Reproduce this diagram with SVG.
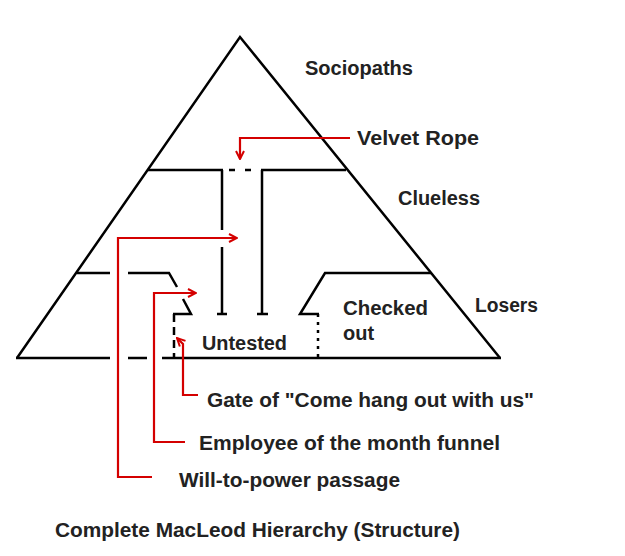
<svg xmlns="http://www.w3.org/2000/svg" width="625" height="556" viewBox="0 0 625 556">
<style>
.k{stroke:#000;stroke-width:2.5;fill:none;stroke-linecap:butt}
.r{stroke:#d40000;stroke-width:2.2;fill:none}
.t{font-family:"Liberation Sans",Arial,sans-serif;font-weight:bold;font-size:20px;fill:#222}
</style>
<defs>
<marker id="ah" viewBox="0 0 10 10" refX="9" refY="5" markerWidth="10" markerHeight="10" markerUnits="userSpaceOnUse" orient="auto">
<path d="M1,1 L9,5 L1,9" fill="none" stroke="#d40000" stroke-width="2"/>
</marker>
</defs>
<rect width="625" height="556" fill="#fff"/>
<g id="pyramid">
<path class="k" d="M17,358 L240,37 L500,358"/>
<path class="k" d="M16,358 H110 M128,358 H147 M162,358 H501"/>
</g>
<g id="clueless-layer">
<path class="k" d="M148,170 H223 M229,170 H235 M245,170 H251 M261,170 H346"/>
<path class="k" d="M222,170 V230 M222,247 V314 M217,314 H227"/>
<path class="k" d="M262,170 V314 M257,314 H268"/>
</g>
<g id="losers-left">
<path class="k" d="M77,273 H110 M128,273 H169 L177,287 M183,299 L191,314 H173"/>
<path class="k" d="M174,314 V358" stroke-dasharray="8,5"/>
</g>
<g id="checked-out-box">
<path class="k" d="M431,273 H325 L300,314 H319"/>
<path class="k" d="M318,314 V358" stroke-dasharray="3,5"/>
</g>
<g id="labels">
<text class="t" x="305" y="75" textLength="108" lengthAdjust="spacingAndGlyphs">Sociopaths</text>
<text class="t" x="357" y="145" textLength="122" lengthAdjust="spacingAndGlyphs">Velvet Rope</text>
<text class="t" x="398" y="205" textLength="82" lengthAdjust="spacingAndGlyphs">Clueless</text>
<text class="t" x="475" y="312" textLength="63" lengthAdjust="spacingAndGlyphs">Losers</text>
<text class="t" x="343" y="315" textLength="85" lengthAdjust="spacingAndGlyphs">Checked</text>
<text class="t" x="343" y="340">out</text>
<text class="t" x="202" y="350" textLength="85" lengthAdjust="spacingAndGlyphs">Untested</text>
<text class="t" x="207" y="407" textLength="327" lengthAdjust="spacingAndGlyphs">Gate of "Come hang out with us"</text>
<text class="t" x="199" y="450" textLength="301" lengthAdjust="spacingAndGlyphs">Employee of the month funnel</text>
<text class="t" x="179" y="487" textLength="221" lengthAdjust="spacingAndGlyphs">Will-to-power passage</text>
<text class="t" x="55" y="537" textLength="405" lengthAdjust="spacingAndGlyphs">Complete MacLeod Hierarchy (Structure)</text>
</g>
<g id="connectors">
<path class="r" d="M350,138 H240 V159" marker-end="url(#ah)"/>
<path class="r" d="M152,477 H118 V238 H237" marker-end="url(#ah)"/>
<path class="r" d="M185,442 H154 V293 H196" marker-end="url(#ah)"/>
<path class="r" d="M198,395 H183 V344 L177,338" marker-end="url(#ah)"/>
</g>
</svg>
